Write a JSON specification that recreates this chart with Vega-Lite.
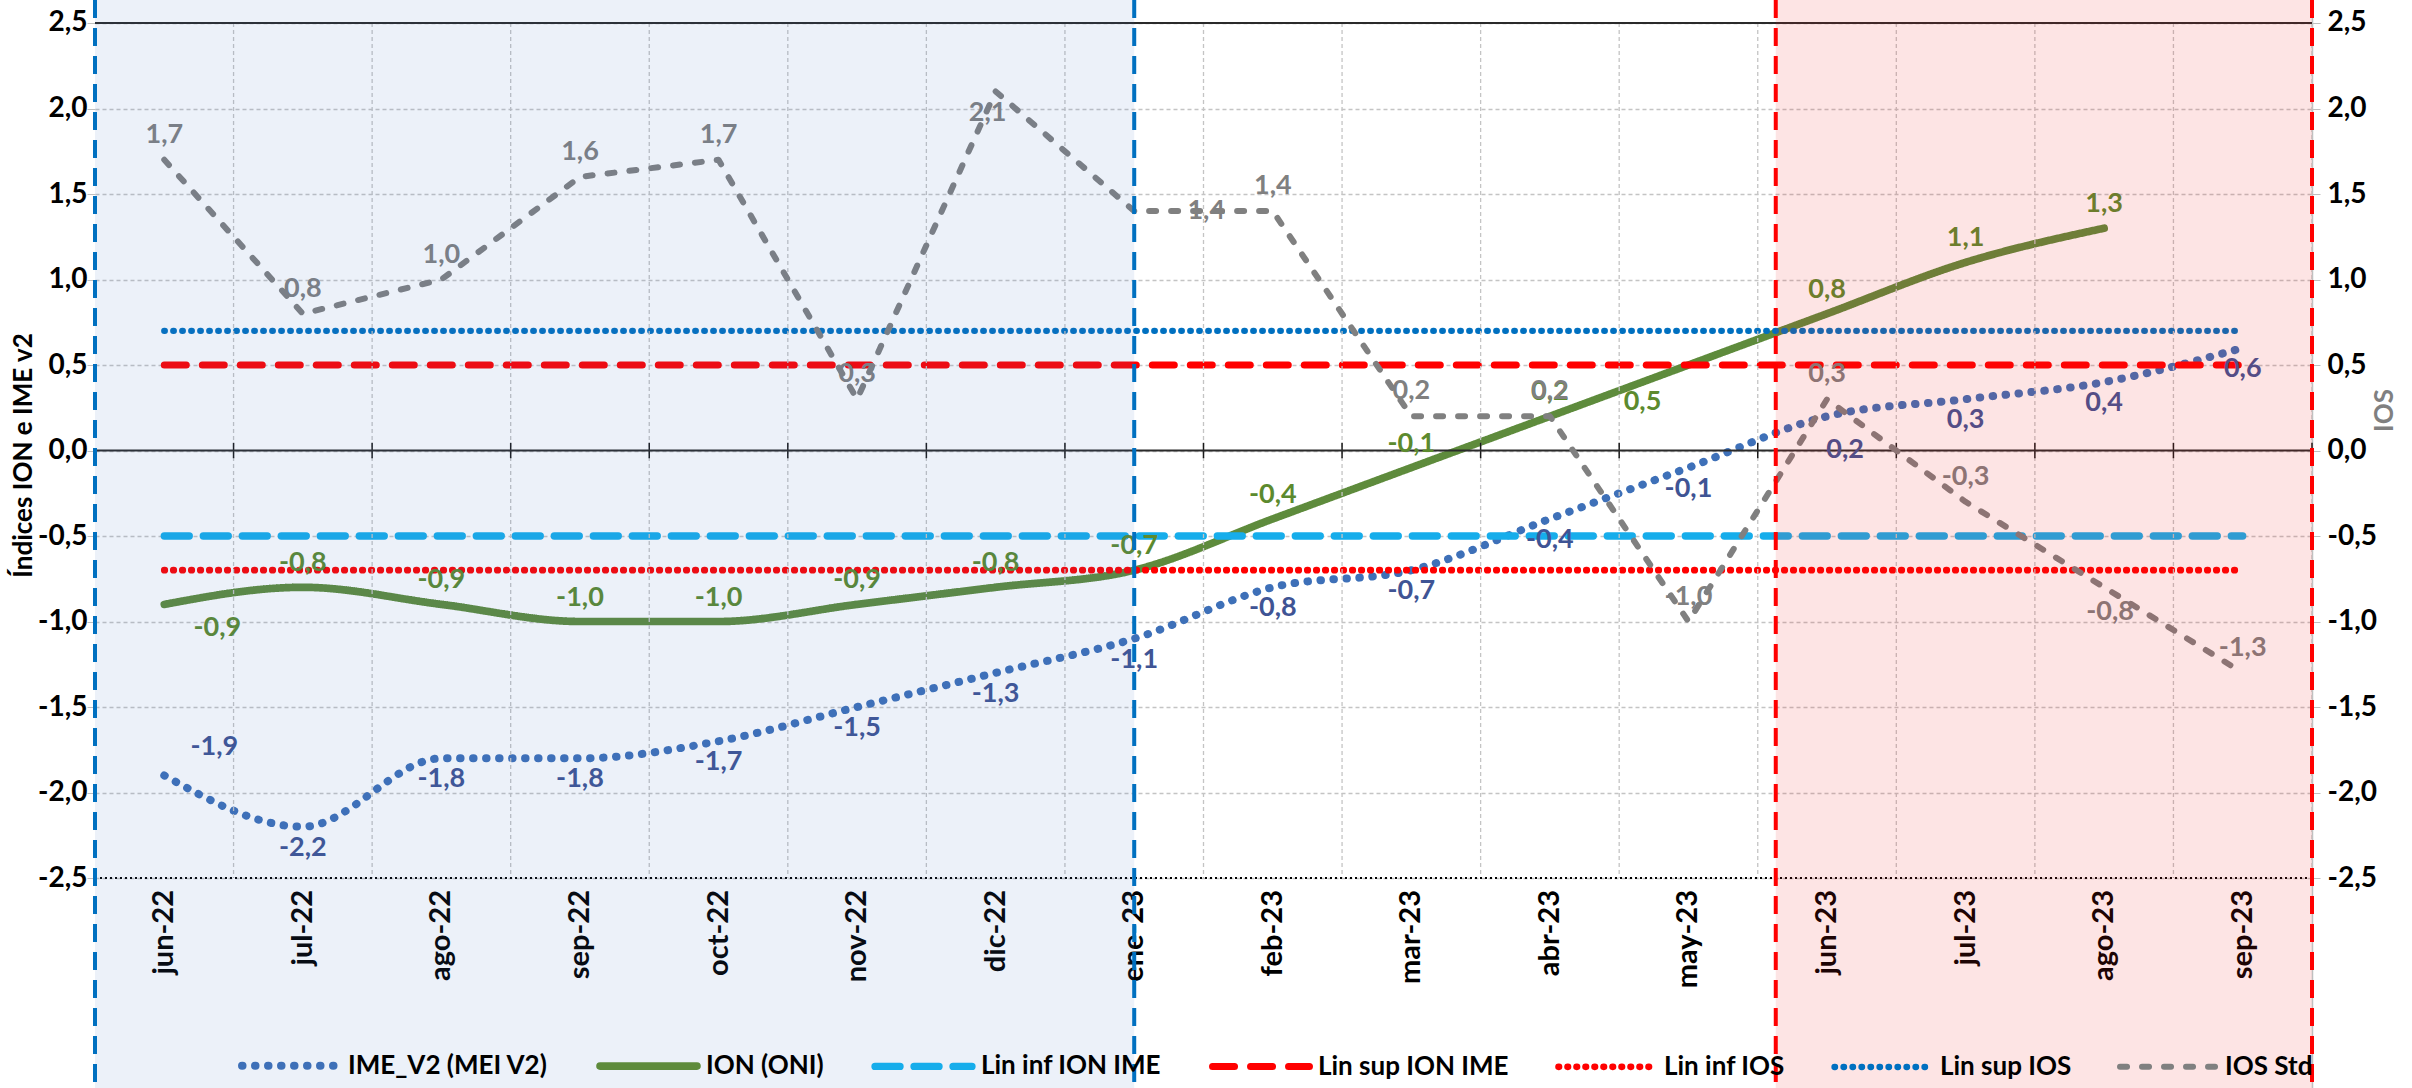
{
  "$schema": "https://vega.github.io/schema/vega-lite/v6.json",
  "width": 2217,
  "height": 1088,
  "autosize": {"type": "none"},
  "padding": {"left": 95, "right": 100, "top": 0, "bottom": 0},
  "background": "#ffffff",
  "config": {
    "locale": {"number": {"decimal": ",", "thousands": ".", "grouping": [3], "currency": ["", " €"], "minus": "-"}},
    "font": "Lato",
    "view": {"stroke": null},
    "text": {"font": "Lato", "fontSize": 27, "fontWeight": "bold"},
    "legend": {
      "symbolType": "stroke",
      "symbolSize": 9400,
      "labelFont": "Lato",
      "labelFontSize": 26,
      "labelFontWeight": "bold",
      "labelColor": "#000000",
      "labelLimit": 500,
      "columnPadding": 36,
      "labelOffset": 5,
      "padding": 0,
      "rowPadding": 0
    }
  },
  "datasets": {
    "meses": [
      {"t": 0, "mes": "jun-22", "IME_V2 (MEI V2)": -1.9, "ION (ONI)": -0.9, "Lin inf ION IME": -0.5, "Lin sup ION IME": 0.5, "Lin inf IOS": -0.7, "Lin sup IOS": 0.7, "IOS Std": 1.7},
      {"t": 1, "mes": "jul-22", "IME_V2 (MEI V2)": -2.2, "ION (ONI)": -0.8, "Lin inf ION IME": -0.5, "Lin sup ION IME": 0.5, "Lin inf IOS": -0.7, "Lin sup IOS": 0.7, "IOS Std": 0.8},
      {"t": 2, "mes": "ago-22", "IME_V2 (MEI V2)": -1.8, "ION (ONI)": -0.9, "Lin inf ION IME": -0.5, "Lin sup ION IME": 0.5, "Lin inf IOS": -0.7, "Lin sup IOS": 0.7, "IOS Std": 1.0},
      {"t": 3, "mes": "sep-22", "IME_V2 (MEI V2)": -1.8, "ION (ONI)": -1.0, "Lin inf ION IME": -0.5, "Lin sup ION IME": 0.5, "Lin inf IOS": -0.7, "Lin sup IOS": 0.7, "IOS Std": 1.6},
      {"t": 4, "mes": "oct-22", "IME_V2 (MEI V2)": -1.7, "ION (ONI)": -1.0, "Lin inf ION IME": -0.5, "Lin sup ION IME": 0.5, "Lin inf IOS": -0.7, "Lin sup IOS": 0.7, "IOS Std": 1.7},
      {"t": 5, "mes": "nov-22", "IME_V2 (MEI V2)": -1.5, "ION (ONI)": -0.9, "Lin inf ION IME": -0.5, "Lin sup ION IME": 0.5, "Lin inf IOS": -0.7, "Lin sup IOS": 0.7, "IOS Std": 0.3},
      {"t": 6, "mes": "dic-22", "IME_V2 (MEI V2)": -1.3, "ION (ONI)": -0.8, "Lin inf ION IME": -0.5, "Lin sup ION IME": 0.5, "Lin inf IOS": -0.7, "Lin sup IOS": 0.7, "IOS Std": 2.1},
      {"t": 7, "mes": "ene-23", "IME_V2 (MEI V2)": -1.1, "ION (ONI)": -0.7, "Lin inf ION IME": -0.5, "Lin sup ION IME": 0.5, "Lin inf IOS": -0.7, "Lin sup IOS": 0.7, "IOS Std": 1.4},
      {"t": 8, "mes": "feb-23", "IME_V2 (MEI V2)": -0.8, "ION (ONI)": -0.4, "Lin inf ION IME": -0.5, "Lin sup ION IME": 0.5, "Lin inf IOS": -0.7, "Lin sup IOS": 0.7, "IOS Std": 1.4},
      {"t": 9, "mes": "mar-23", "IME_V2 (MEI V2)": -0.7, "ION (ONI)": -0.1, "Lin inf ION IME": -0.5, "Lin sup ION IME": 0.5, "Lin inf IOS": -0.7, "Lin sup IOS": 0.7, "IOS Std": 0.2},
      {"t": 10, "mes": "abr-23", "IME_V2 (MEI V2)": -0.4, "ION (ONI)": 0.2, "Lin inf ION IME": -0.5, "Lin sup ION IME": 0.5, "Lin inf IOS": -0.7, "Lin sup IOS": 0.7, "IOS Std": 0.2},
      {"t": 11, "mes": "may-23", "IME_V2 (MEI V2)": -0.1, "ION (ONI)": 0.5, "Lin inf ION IME": -0.5, "Lin sup ION IME": 0.5, "Lin inf IOS": -0.7, "Lin sup IOS": 0.7, "IOS Std": -1.0},
      {"t": 12, "mes": "jun-23", "IME_V2 (MEI V2)": 0.2, "ION (ONI)": 0.8, "Lin inf ION IME": -0.5, "Lin sup ION IME": 0.5, "Lin inf IOS": -0.7, "Lin sup IOS": 0.7, "IOS Std": 0.3},
      {"t": 13, "mes": "jul-23", "IME_V2 (MEI V2)": 0.3, "ION (ONI)": 1.1, "Lin inf ION IME": -0.5, "Lin sup ION IME": 0.5, "Lin inf IOS": -0.7, "Lin sup IOS": 0.7, "IOS Std": -0.3},
      {"t": 14, "mes": "ago-23", "IME_V2 (MEI V2)": 0.4, "ION (ONI)": 1.3, "Lin inf ION IME": -0.5, "Lin sup ION IME": 0.5, "Lin inf IOS": -0.7, "Lin sup IOS": 0.7, "IOS Std": -0.8},
      {"t": 15, "mes": "sep-23", "IME_V2 (MEI V2)": 0.6, "ION (ONI)": null, "Lin inf ION IME": -0.5, "Lin sup ION IME": 0.5, "Lin inf IOS": -0.7, "Lin sup IOS": 0.7, "IOS Std": -1.3}
    ],
    "regiones": [
      {"fase": "La Niña", "inicio": -0.5, "fin": 7},
      {"fase": "El Niño", "inicio": 11.63, "fin": 15.5}
    ]
  },
  "data": {"name": "meses"},
  "layer": [
    {
      "transform": [
        {"fold": ["IME_V2 (MEI V2)", "ION (ONI)", "Lin inf ION IME", "Lin sup ION IME", "Lin inf IOS", "Lin sup IOS"], "as": ["serie", "valor"]},
        {"filter": "isValid(datum.valor)"}
      ],
      "mark": {"type": "line", "interpolate": "monotone", "strokeCap": "round", "strokeJoin": "round"},
      "encoding": {
        "x": {
          "field": "t", "type": "quantitative",
          "scale": {"domain": [-0.5, 15.5], "nice": false, "zero": false},
          "axis": null
        },
        "y": {
          "field": "valor", "type": "quantitative",
          "scale": {"domain": [-3.728, 2.6345], "nice": false, "zero": false},
          "axis": {
            "orient": "left", "values": [-2.5, -2, -1.5, -1, -0.5, 0, 0.5, 1, 1.5, 2, 2.5], "format": ".1f",
            "domain": false, "ticks": true, "tickSize": 8, "tickColor": "#BFBFBF", "labelPadding": 0,
            "grid": true, "gridColor": "#C4C4C4", "gridDash": [4, 3], "gridWidth": 1.3,
            "labelFont": "Lato", "labelFontSize": 28, "labelFontWeight": "bold", "labelColor": "#000000",
            "title": "Índices ION e IME v2", "titleFont": "Lato", "titleFontSize": 26, "titleFontWeight": "bold", "titleColor": "#000000",
            "titleAngle": 270, "titleX": -72, "titleY": 455, "titleAlign": "center", "titleBaseline": "middle"
          }
        },
        "color": {
          "field": "serie", "type": "nominal",
          "scale": {"domain": ["IME_V2 (MEI V2)", "ION (ONI)", "Lin inf ION IME", "Lin sup ION IME", "Lin inf IOS", "Lin sup IOS", "IOS Std"], "range": ["#3E70B8", "#5E8B3C", "#16ADEB", "#FF0000", "#FF0000", "#0070C0", "#808080"]},
          "legend": {"title": null, "orient": "none", "legendX": 143, "legendY": 1013, "direction": "horizontal", "encode": {"symbols": {"update": {"strokeCap": {"value": "round"}}}}}
        },
        "strokeDash": {
          "field": "serie", "type": "nominal",
          "scale": {"domain": ["IME_V2 (MEI V2)", "ION (ONI)", "Lin inf ION IME", "Lin sup ION IME", "Lin inf IOS", "Lin sup IOS", "IOS Std"], "range": [[0.5, 12.5], [1, 0], [25, 14], [22, 16], [0.5, 8.5], [0.5, 8.5], [7, 15]]},
          "legend": {"title": null}
        },
        "strokeWidth": {
          "field": "serie", "type": "nominal",
          "scale": {"domain": ["IME_V2 (MEI V2)", "ION (ONI)", "Lin inf ION IME", "Lin sup ION IME", "Lin inf IOS", "Lin sup IOS", "IOS Std"], "range": [8, 6, 5, 6, 5, 5, 7]},
          "legend": {"title": null}
        }
      }
    },
    {
      "mark": {"type": "rule", "color": "#C4C4C4", "strokeWidth": 1.3, "strokeDash": [4, 3], "xOffset": 69.28},
      "encoding": {
        "x": {"field": "t", "type": "quantitative", "axis": null},
        "y": {"datum": 2.5, "axis": null},
        "y2": {"datum": -2.5}
      }
    },
    {
      "mark": {"type": "rule", "color": "#1a1a1a", "strokeWidth": 1.5, "xOffset": 69.28},
      "encoding": {
        "x": {"field": "t", "type": "quantitative", "axis": null},
        "y": {"datum": 0.045, "axis": null},
        "y2": {"datum": -0.045}
      }
    },
    {
      "data": {"values": [{"nivel": 2.5}, {"nivel": 0}]},
      "mark": {"type": "rule", "color": "#2a2a2a", "strokeWidth": 2},
      "encoding": {"y": {"field": "nivel", "type": "quantitative", "axis": null}}
    },
    {
      "data": {"values": [{"nivel": -2.5}]},
      "mark": {"type": "rule", "color": "#000000", "strokeWidth": 2, "strokeDash": [2, 3]},
      "encoding": {"y": {"field": "nivel", "type": "quantitative", "axis": null}}
    },
    {
      "mark": {"type": "text", "angle": 270, "align": "right", "baseline": "middle", "dx": -12, "fontSize": 29, "fontWeight": "bold", "font": "Lato", "color": "#000000"},
      "encoding": {
        "x": {"field": "t", "type": "quantitative", "axis": null},
        "y": {"datum": -2.5, "axis": null},
        "text": {"field": "mes", "type": "nominal"}
      }
    },
    {
      "transform": [{"filter": "datum.t != 0 && datum.t != 12"}],
      "mark": {"type": "text", "dy": 21, "color": "#3F5494"},
      "encoding": {
        "x": {"field": "t", "type": "quantitative", "axis": null},
        "y": {"field": "IME_V2 (MEI V2)", "type": "quantitative", "axis": null},
        "text": {"field": "IME_V2 (MEI V2)", "type": "quantitative", "format": ".1f"}
      }
    },
    {
      "transform": [{"filter": "datum.t == 0"}],
      "mark": {"type": "text", "dx": 50, "dy": -28, "color": "#3F5494"},
      "encoding": {
        "x": {"field": "t", "type": "quantitative", "axis": null},
        "y": {"field": "IME_V2 (MEI V2)", "type": "quantitative", "axis": null},
        "text": {"field": "IME_V2 (MEI V2)", "type": "quantitative", "format": ".1f"}
      }
    },
    {
      "transform": [{"filter": "datum.t == 12"}],
      "mark": {"type": "text", "dx": 18, "dy": 34, "color": "#3F5494"},
      "encoding": {
        "x": {"field": "t", "type": "quantitative", "axis": null},
        "y": {"field": "IME_V2 (MEI V2)", "type": "quantitative", "axis": null},
        "text": {"field": "IME_V2 (MEI V2)", "type": "quantitative", "format": ".1f"}
      }
    },
    {
      "transform": [{"filter": "datum.t != 0 && datum.t != 11"}],
      "mark": {"type": "text", "dy": -24, "color": "#5C8A2E"},
      "encoding": {
        "x": {"field": "t", "type": "quantitative", "axis": null},
        "y": {"field": "ION (ONI)", "type": "quantitative", "axis": null},
        "text": {"field": "ION (ONI)", "type": "quantitative", "format": ".1f"}
      }
    },
    {
      "transform": [{"filter": "datum.t == 0"}],
      "mark": {"type": "text", "dx": 53, "dy": 24, "color": "#5C8A2E"},
      "encoding": {
        "x": {"field": "t", "type": "quantitative", "axis": null},
        "y": {"field": "ION (ONI)", "type": "quantitative", "axis": null},
        "text": {"field": "ION (ONI)", "type": "quantitative", "format": ".1f"}
      }
    },
    {
      "transform": [{"filter": "datum.t == 11"}],
      "mark": {"type": "text", "dx": -46, "dy": 37, "color": "#5C8A2E"},
      "encoding": {
        "x": {"field": "t", "type": "quantitative", "axis": null},
        "y": {"field": "ION (ONI)", "type": "quantitative", "axis": null},
        "text": {"field": "ION (ONI)", "type": "quantitative", "format": ".1f"}
      }
    },
    {
      "transform": [{"fold": ["IOS Std"], "as": ["serie", "valor"]}],
      "mark": {"type": "line", "strokeCap": "round", "strokeJoin": "round"},
      "encoding": {
        "x": {"field": "t", "type": "quantitative", "axis": null},
        "y": {
          "field": "valor", "type": "quantitative",
          "axis": {
            "orient": "right", "values": [-2.5, -2, -1.5, -1, -0.5, 0, 0.5, 1, 1.5, 2, 2.5], "format": ".1f",
            "domain": true, "domainColor": "#BFBFBF", "domainWidth": 1.5, "ticks": true, "tickSize": 8, "tickColor": "#BFBFBF", "labelPadding": 7, "grid": false,
            "labelFont": "Lato", "labelFontSize": 28, "labelFontWeight": "bold", "labelColor": "#000000",
            "title": "IOS", "titleFont": "Lato", "titleFontSize": 26, "titleFontWeight": "bold", "titleColor": "#808080",
            "titleAngle": 270, "titleX": 72, "titleY": 410, "titleAlign": "center", "titleBaseline": "middle"
          }
        },
        "color": {"field": "serie", "type": "nominal", "legend": {"title": null}},
        "strokeDash": {"field": "serie", "type": "nominal", "legend": {"title": null}},
        "strokeWidth": {"field": "serie", "type": "nominal", "legend": {"title": null}}
      }
    },
    {
      "transform": [{"filter": "datum.t != 6 && datum.t != 7 && datum.t != 14"}],
      "mark": {"type": "text", "dy": -25, "color": "#808080"},
      "encoding": {
        "x": {"field": "t", "type": "quantitative", "axis": null},
        "y": {"field": "IOS Std", "type": "quantitative", "axis": null},
        "text": {"field": "IOS Std", "type": "quantitative", "format": ".1f"}
      }
    },
    {
      "transform": [{"filter": "datum.t == 6"}],
      "mark": {"type": "text", "dx": -8, "dy": 22, "color": "#808080"},
      "encoding": {
        "x": {"field": "t", "type": "quantitative", "axis": null},
        "y": {"field": "IOS Std", "type": "quantitative", "axis": null},
        "text": {"field": "IOS Std", "type": "quantitative", "format": ".1f"}
      }
    },
    {
      "transform": [{"filter": "datum.t == 7"}],
      "mark": {"type": "text", "dx": 72, "dy": 0, "color": "#808080"},
      "encoding": {
        "x": {"field": "t", "type": "quantitative", "axis": null},
        "y": {"field": "IOS Std", "type": "quantitative", "axis": null},
        "text": {"field": "IOS Std", "type": "quantitative", "format": ".1f"}
      }
    },
    {
      "transform": [{"filter": "datum.t == 14"}],
      "mark": {"type": "text", "dx": 6, "dy": 25, "color": "#808080"},
      "encoding": {
        "x": {"field": "t", "type": "quantitative", "axis": null},
        "y": {"field": "IOS Std", "type": "quantitative", "axis": null},
        "text": {"field": "IOS Std", "type": "quantitative", "format": ".1f"}
      }
    },
    {
      "data": {"name": "regiones"},
      "transform": [{"filter": "datum.fase === 'La Niña'"}],
      "mark": {"type": "rect", "fill": "#4173C3", "opacity": 0.1},
      "encoding": {
        "x": {"field": "inicio", "type": "quantitative", "axis": null},
        "x2": {"field": "fin"}
      }
    },
    {
      "data": {"name": "regiones"},
      "transform": [{"filter": "datum.fase === 'El Niño'"}],
      "mark": {"type": "rect", "fill": "#EE1E1E", "opacity": 0.12},
      "encoding": {
        "x": {"field": "inicio", "type": "quantitative", "axis": null},
        "x2": {"field": "fin"}
      }
    },
    {
      "data": {"name": "regiones"},
      "transform": [{"fold": ["inicio", "fin"], "as": ["borde", "pos"]}],
      "mark": {"type": "rule", "strokeWidth": 4, "strokeDash": [18, 10]},
      "encoding": {
        "x": {"field": "pos", "type": "quantitative", "axis": null},
        "stroke": {"condition": {"test": "datum.fase === 'La Niña'", "value": "#0070C0"}, "value": "#FF0000"}
      }
    }
  ],
  "resolve": {"axis": {"y": "independent"}}
}
